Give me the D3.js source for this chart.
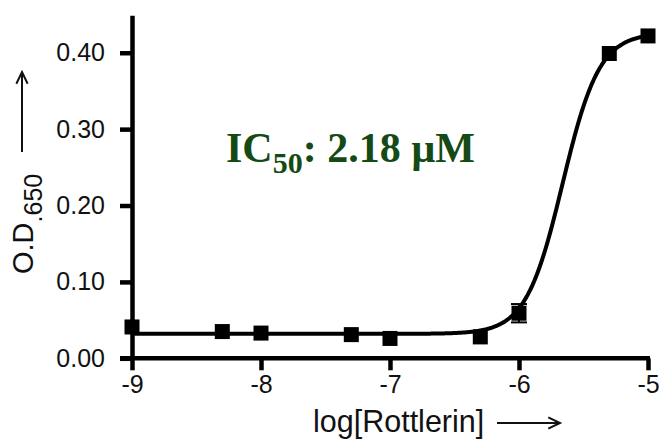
<!DOCTYPE html>
<html>
<head>
<meta charset="utf-8">
<script src="https://cdn.jsdelivr.net/npm/d3@7/dist/d3.min.js"></script>
<style>
  html, body { margin: 0; padding: 0; background: #fff; }
  svg { display: block; }
  .axis text { font-family: "Liberation Sans", Arial, sans-serif; font-size: 25px; fill: #111; }
</style>
</head>
<body>
<svg id="chart" width="662" height="442"></svg>
<script>
// Rottlerin dose-response: measured O.D. at 650 nm
const logConc   = [-9, -8.3, -8, -7.3, -7, -6.3, -6, -5.3, -5];
const odValues  = [0.041, 0.035, 0.033, 0.031, 0.026, 0.028, 0.059, 0.399, 0.422];
const odErrors  = [0, 0, 0, 0, 0, 0, 0.012, 0, 0];
const xTicks    = [-9, -8, -7, -6, -5];
const yTicks    = [0.00, 0.10, 0.20, 0.30, 0.40];

// Four-parameter logistic fit
const fitBottom = 0.032;
const fitTop    = 0.426;
const ic50uM    = 2.18;
const fitLogIC50 = Math.log10(ic50uM * 1e-6);
const fitHill   = 3.05;

const svg = d3.select("#chart");

const x = d3.scaleLinear().domain([-9, -5]).range([132, 648]);
const y = d3.scaleLinear().domain([0, 0.449]).range([358.3, 15.3]);

// Y axis
const yAxis = svg.append("g")
  .attr("class", "axis")
  .attr("transform", `translate(${x(-9)},0)`)
  .call(d3.axisLeft(y).tickValues(yTicks).tickFormat(d3.format(".2f"))
        .tickSize(12).tickSizeOuter(0).tickPadding(15));

// X axis
const xAxis = svg.append("g")
  .attr("class", "axis")
  .attr("transform", `translate(0,${y(0)})`)
  .call(d3.axisBottom(x).tickValues(xTicks).tickFormat(d => String(d))
        .tickSize(12).tickSizeOuter(0).tickPadding(5));

svg.selectAll(".axis .domain").attr("stroke", "#000").attr("stroke-width", 4.5);
svg.selectAll(".axis .tick line").attr("stroke", "#000").attr("stroke-width", 4.5);
xAxis.select(".domain").attr("d", `M${x(-9) - 12},0H${x(-5) + 2}`);

// Fitted curve
const fit = v => fitBottom + (fitTop - fitBottom) / (1 + Math.pow(10, (fitLogIC50 - v) * fitHill));
const curveXs = d3.range(-9, -5.0001, 0.01).concat([-5]);
svg.append("path")
  .datum(curveXs)
  .attr("fill", "none")
  .attr("stroke", "#000")
  .attr("stroke-width", 4)
  .attr("d", d3.line().x(v => x(v)).y(v => y(fit(v))).curve(d3.curveBasis));

// Error bars
const pts = logConc.map((c, i) => ({ c, v: odValues[i], e: odErrors[i] }));
const eb = svg.append("g").selectAll("g").data(pts.filter(d => d.e > 0)).join("g")
  .attr("stroke", "#000").attr("stroke-width", 2);
eb.append("line").attr("x1", d => x(d.c)).attr("x2", d => x(d.c))
  .attr("y1", d => y(d.v - d.e)).attr("y2", d => y(d.v + d.e));
eb.append("line").attr("x1", d => x(d.c) - 8).attr("x2", d => x(d.c) + 8)
  .attr("y1", d => y(d.v + d.e)).attr("y2", d => y(d.v + d.e));
eb.append("line").attr("x1", d => x(d.c) - 8).attr("x2", d => x(d.c) + 8)
  .attr("y1", d => y(d.v - d.e)).attr("y2", d => y(d.v - d.e));

// Square markers
const s = 15;
svg.append("g").selectAll("rect").data(pts).join("rect")
  .attr("x", d => x(d.c) - s / 2)
  .attr("y", d => y(d.v) - s / 2)
  .attr("width", s).attr("height", s)
  .attr("fill", "#000");

// Arrow helper
function arrow(x1, y1, x2, y2) {
  const g = svg.append("g").attr("stroke", "#111").attr("stroke-width", 2).attr("fill", "none");
  g.append("line").attr("x1", x1).attr("y1", y1).attr("x2", x2).attr("y2", y2);
  const ang = Math.atan2(y2 - y1, x2 - x1), L = 13, w = 0.45;
  g.append("path").attr("d",
    `M${x2 - L * Math.cos(ang - w)},${y2 - L * Math.sin(ang - w)}L${x2},${y2}L${x2 - L * Math.cos(ang + w)},${y2 - L * Math.sin(ang + w)}`);
}

// Y axis title: O.D.650 with arrow
const yTitle = svg.append("text")
  .attr("transform", "translate(33,274) rotate(-90)")
  .attr("font-family", "Liberation Sans, Arial, sans-serif")
  .attr("font-size", 29).attr("fill", "#111");
yTitle.append("tspan").text("O.D");
yTitle.append("tspan").attr("font-size", 25).attr("dy", 9).text(".650");
arrow(22, 152, 22, 72);

// X axis title with arrow
svg.append("text")
  .attr("x", 313).attr("y", 432)
  .attr("font-family", "Liberation Sans, Arial, sans-serif")
  .attr("font-size", 30.5).attr("fill", "#111")
  .text("log[Rottlerin]");
arrow(497, 423, 560, 423);

// IC50 annotation
const ann = svg.append("text")
  .attr("x", 226).attr("y", 162)
  .attr("font-family", "Liberation Serif, Times New Roman, serif")
  .attr("font-weight", "bold")
  .attr("font-size", 42).attr("fill", "#154a15");
ann.append("tspan").text("IC");
ann.append("tspan").attr("font-size", 30).attr("dy", 11).text("50");
ann.append("tspan").attr("dy", -11).text(`: ${ic50uM} \u00b5M`);
</script>
</body>
</html>
